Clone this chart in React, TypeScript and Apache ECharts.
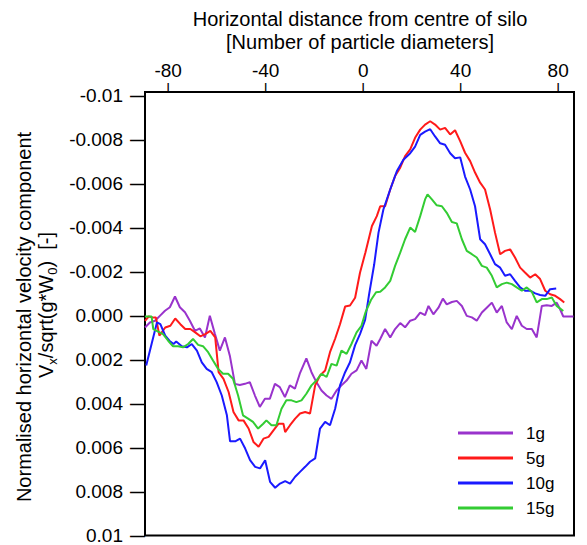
import React, { useEffect, useRef } from 'react';
import * as echarts from 'echarts';

const FONT = '"Liberation Sans", Arial, Helvetica, sans-serif';

const xMin = -89.5;
const xMax = 86.5;
const yMin = -0.01015;
const yMax = 0.01;
const xTicks = [-80, -40, 0, 40, 80];
const yTicks = [-0.01, -0.008, -0.006, -0.004, -0.002, 0, 0.002, 0.004, 0.006, 0.008, 0.01];
const yTickLabels = ['-0.01', '-0.008', '-0.006', '-0.004', '-0.002', '0.000', '0.002', '0.004', '0.006', '0.008', '0.01'];

const seriesNames = ['1g', '5g', '10g', '15g'];
const seriesColors = ['#9933cc', '#ff1a1a', '#1a1aff', '#33cc33'];

const data1g: [number, number][] = [
  [-89.5, 0.00055], [-87.5, 0.00032], [-85.4, 0.00024], [-83.4, 0.00002], [-81.3, -0.00021],
  [-79.3, -0.00037], [-77.2, -0.00086], [-75.2, -0.00037], [-73.1, -0.00014], [-71.1, 0.00024],
  [-69.0, 0.0007], [-67.0, 0.00059], [-64.9, 0.001], [-62.9, 0.00002], [-60.8, 0.00085],
  [-58.8, 0.0016], [-56.7, 0.001], [-54.7, 0.00183], [-52.6, 0.00311], [-50.6, 0.00316],
  [-48.5, 0.00311], [-46.5, 0.00303], [-44.4, 0.00364], [-42.4, 0.00416], [-40.3, 0.00379],
  [-38.3, 0.00379], [-36.2, 0.00311], [-34.2, 0.00326], [-32.1, 0.00371], [-30.1, 0.00318],
  [-28.0, 0.00333], [-26.0, 0.00265], [-23.3, 0.00195], [-21.2, 0.00258], [-19.2, 0.00303],
  [-17.1, 0.00341], [-15.0, 0.00364], [-13.0, 0.00379], [-10.9, 0.00341], [-8.9, 0.00318],
  [-6.8, 0.00296], [-4.8, 0.00265], [-2.7, 0.0025], [-0.7, 0.00205], [1.3, 0.00243],
  [3.4, 0.00115], [5.5, 0.00138], [7.0, 0.00107], [9.0, 0.00062], [11.1, 0.001],
  [13.1, 0.00062], [15.2, 0.00035], [17.2, 0.00054], [19.3, 0.00024], [21.3, 0.00017],
  [23.4, -0.00013], [25.4, -0.00001], [26.8, -0.00043], [28.8, -0.00005], [30.9, -0.00035],
  [32.7, -0.00076], [34.3, -0.0005], [36.4, -0.00061], [38.4, -0.00066], [40.5, -0.00043],
  [42.5, 0.00002], [44.6, 0.00009], [46.6, 0.00024], [48.7, -0.00013], [50.7, -0.00035],
  [52.8, -0.00058], [54.8, -0.00013], [56.9, -0.00043], [58.9, 0.00032], [61.0, 0.00062],
  [63.0, 0.00002], [65.1, 0.00047], [67.1, 0.00062], [69.2, 0.00062], [71.2, 0.001],
  [73.3, -0.00043], [75.3, -0.00046], [77.4, -0.00043], [79.4, -0.00058], [80.8, -0.00028],
  [82.1, 0.00005], [84.2, 0.00005], [86.3, 0.00005],
];

const data5g: [number, number][] = [
  [-89.5, 0.00025], [-88.0, 0.00005], [-86.0, 0.0001], [-85.0, 0.0001], [-83.6, 0.00092],
  [-81.2, 0.00055], [-79.1, 0.00047], [-77.1, 0.00014], [-75.0, 0.0004], [-73.0, 0.00062],
  [-70.9, 0.00062], [-68.9, 0.00077], [-66.8, 0.00095], [-64.8, 0.00085], [-62.7, 0.0007],
  [-60.7, 0.001], [-59.3, 0.00258], [-57.3, 0.00288], [-55.2, 0.00348], [-53.2, 0.00439],
  [-51.1, 0.00477], [-49.1, 0.00477], [-47.0, 0.00514], [-45.0, 0.00575], [-42.9, 0.00597],
  [-40.9, 0.0056], [-38.8, 0.00552], [-36.8, 0.00522], [-34.7, 0.00492], [-32.7, 0.00492],
  [-32.0, 0.0053], [-30.0, 0.00499], [-27.9, 0.00469], [-25.9, 0.00446], [-23.8, 0.00439],
  [-21.8, 0.00446], [-19.7, 0.00318], [-17.7, 0.00273], [-15.6, 0.0025], [-13.6, 0.00167],
  [-11.5, 0.00106], [-9.5, 0.0004], [-7.4, -0.0004], [-5.4, -0.00045], [-3.3, -0.0008],
  [-1.3, -0.00194], [0.9, -0.00285], [3.6, -0.00406], [5.6, -0.00451], [7.0, -0.00496],
  [9.0, -0.00496], [11.1, -0.00572], [13.1, -0.00633], [15.2, -0.00671], [17.2, -0.00724],
  [19.3, -0.00754], [21.3, -0.00807], [23.4, -0.00844], [25.4, -0.00867], [27.5, -0.00882],
  [29.5, -0.00867], [31.6, -0.00844], [33.6, -0.00852], [35.7, -0.00822], [37.7, -0.00841],
  [39.8, -0.00792], [41.8, -0.00739], [43.9, -0.00701], [45.9, -0.00649], [48.0, -0.00603],
  [50.0, -0.00572], [52.1, -0.00481], [54.1, -0.00376], [56.2, -0.00278], [58.2, -0.00293],
  [60.3, -0.003], [62.3, -0.00263], [64.4, -0.00217], [66.4, -0.00195], [68.5, -0.00172],
  [70.6, -0.00187], [72.6, -0.00165], [74.7, -0.00112], [76.7, -0.00096], [78.8, -0.00089],
  [80.8, -0.00074], [82.5, -0.00059],
];

const data10g: [number, number][] = [
  [-89.0, 0.00228], [-84.6, 0.00032], [-83.2, 0.0004], [-81.2, 0.00092], [-79.5, 0.00115],
  [-77.8, 0.0013], [-76.7, 0.00119], [-74.4, 0.0014], [-72.3, 0.00145], [-70.3, 0.0013],
  [-68.2, 0.0016], [-66.2, 0.00213], [-64.2, 0.00243], [-62.1, 0.00258], [-60.1, 0.00303],
  [-58.0, 0.00364], [-55.9, 0.00454], [-54.6, 0.00572], [-52.5, 0.00572], [-50.5, 0.0056],
  [-48.4, 0.00605], [-46.4, 0.00658], [-44.3, 0.00688], [-42.3, 0.00695], [-40.2, 0.00658],
  [-38.2, 0.00756], [-36.1, 0.00783], [-34.1, 0.00764], [-32.0, 0.00753], [-30.0, 0.00764],
  [-27.9, 0.00733], [-25.9, 0.00711], [-23.8, 0.00688], [-21.8, 0.00665], [-19.7, 0.0065],
  [-17.7, 0.00514], [-15.6, 0.00484], [-13.6, 0.00499], [-11.5, 0.00424], [-9.5, 0.00318],
  [-7.4, 0.00258], [-5.4, 0.00213], [-3.3, 0.00135], [-1.3, 0.00085], [0.8, 0.0002],
  [2.5, -0.001], [4.5, -0.0023], [6.3, -0.00376], [8.3, -0.00481], [11.1, -0.00572],
  [13.8, -0.00655], [16.5, -0.00707], [19.3, -0.00737], [21.3, -0.00767], [23.4, -0.0082],
  [25.4, -0.00835], [27.5, -0.00846], [29.5, -0.00813], [31.6, -0.00782], [33.6, -0.00775],
  [35.7, -0.00737], [37.7, -0.00714], [39.8, -0.00718], [41.8, -0.00631], [43.9, -0.00572],
  [45.9, -0.00496], [48.0, -0.00346], [50.0, -0.00323], [52.1, -0.00278], [54.1, -0.00233],
  [56.2, -0.00217], [58.2, -0.0018], [60.3, -0.00187], [62.3, -0.00157], [64.4, -0.00127],
  [66.4, -0.00112], [68.5, -0.00112], [70.6, -0.001], [72.6, -0.00093], [74.7, -0.00089],
  [76.7, -0.00119], [79.2, -0.00122],
];

const data15g: [number, number][] = [
  [-89.5, 0.00005], [-86.8, 0.00005], [-86.1, 0.00062], [-84.1, 0.00074], [-82.1, 0.00085],
  [-80.0, 0.00115], [-78.0, 0.0014], [-75.9, 0.0014], [-73.9, 0.00145], [-71.8, 0.0013],
  [-69.8, 0.00107], [-67.7, 0.00134], [-65.7, 0.0014], [-63.6, 0.00167], [-61.6, 0.00205],
  [-59.5, 0.00243], [-57.5, 0.00265], [-55.4, 0.00265], [-53.4, 0.00288], [-51.3, 0.00364],
  [-49.3, 0.00454], [-47.2, 0.00469], [-45.2, 0.00484], [-43.1, 0.00514], [-41.0, 0.00492],
  [-39.7, 0.00477], [-37.6, 0.00499], [-35.6, 0.00499], [-33.5, 0.00424], [-31.5, 0.00386],
  [-29.4, 0.00386], [-27.4, 0.00394], [-25.3, 0.00386], [-23.3, 0.00356], [-21.2, 0.00318],
  [-19.2, 0.00296], [-17.1, 0.00265], [-15.0, 0.0028], [-13.0, 0.0022], [-10.9, 0.00228],
  [-8.9, 0.0016], [-6.8, 0.00175], [-4.8, 0.0013], [-2.7, 0.00077], [-0.7, 0.00047],
  [1.0, -0.00015], [3.2, -0.0007], [5.3, -0.00105], [7.0, -0.00107], [9.0, -0.00127],
  [11.1, -0.00157], [13.1, -0.00225], [15.2, -0.00285], [17.2, -0.00346], [19.3, -0.00399],
  [21.3, -0.00379], [23.4, -0.00451], [25.4, -0.00527], [26.4, -0.0055], [28.2, -0.00527],
  [30.2, -0.005], [32.3, -0.00496], [34.3, -0.00466], [36.4, -0.00424], [38.4, -0.00418],
  [40.5, -0.00346], [42.5, -0.00293], [44.6, -0.00278], [46.6, -0.00263], [48.7, -0.00225],
  [50.7, -0.00217], [52.8, -0.0018], [54.8, -0.00127], [56.9, -0.00142], [58.9, -0.00149],
  [61.0, -0.00142], [63.0, -0.00127], [65.1, -0.00112], [67.1, -0.00127], [69.2, -0.00107],
  [71.2, -0.00059], [73.3, -0.00074], [75.3, -0.00074], [77.4, -0.00081], [79.4, -0.00043],
  [81.5, -0.00025], [82.1, -0.0002],
];

const seriesData = [data1g, data5g, data10g, data15g];

const xTitleLines = ['Horizontal distance from centre of silo', '[Number of particle diameters]'];
const yTitleLine1 = 'Normalised horizontal velocity component';
const yTitleLine2Rich = '{n|V}{s|x}{n|/sqrt(g*W}{s|0}{n|)  [-]}';

export default function App() {
  const ref = useRef<HTMLDivElement>(null);
  useEffect(() => {
    if (!ref.current) return;
    const chart = echarts.init(ref.current, null, { renderer: 'svg' });
    const labelFor = (v: number) => {
      let best = 0;
      let bd = Infinity;
      yTicks.forEach((t, i) => {
        const d = Math.abs(t - v);
        if (d < bd) {
          bd = d;
          best = i;
        }
      });
      return yTickLabels[best];
    };
    const hidden = {
      axisLine: { show: false, onZero: false },
      splitLine: { show: false },
      axisTick: { show: false },
    };
    chart.setOption({
      animation: false,
      grid: {
        left: 145,
        top: 92,
        width: 429,
        height: 445,
        show: true,
        borderColor: '#000',
        borderWidth: 2,
        containLabel: false,
      },
      xAxis: [
        {
          type: 'value',
          position: 'top',
          min: xMin,
          max: xMax,
          ...hidden,
          axisLabel: {
            customValues: xTicks,
            margin: 12,
            fontSize: 19,
            fontFamily: FONT,
            color: '#000',
          },
        },
        {
          // tick marks of the top axis
          type: 'value',
          position: 'top',
          min: xMin,
          max: xMax,
          ...hidden,
          axisLabel: {
            customValues: xTicks,
            margin: 0,
            fontSize: 10,
            fontWeight: 'bold',
            fontFamily: FONT,
            color: '#000',
            formatter: () => '|',
          },
        },
      ],
      yAxis: [
        {
          type: 'value',
          position: 'left',
          inverse: true,
          min: yMin,
          max: yMax,
          ...hidden,
          axisLabel: {
            customValues: yTicks,
            margin: 22,
            fontSize: 19,
            fontFamily: FONT,
            color: '#000',
            formatter: (v: number) => labelFor(v),
          },
        },
        {
          // tick marks of the left axis
          type: 'value',
          position: 'left',
          inverse: true,
          min: yMin,
          max: yMax,
          ...hidden,
          axisLabel: {
            customValues: yTicks,
            margin: 0,
            fontSize: 15,
            fontWeight: 'bold',
            fontFamily: FONT,
            color: '#000',
            formatter: () => '\u2014',
          },
        },
      ],
      legend: {
        data: seriesNames,
        orient: 'vertical',
        left: 458,
        top: 423,
        icon: 'rect',
        itemWidth: 55,
        itemHeight: 3,
        itemGap: 5,
        padding: 0,
        textStyle: {
          fontSize: 17,
          lineHeight: 20,
          fontFamily: FONT,
          color: '#000',
          padding: [0, 0, 0, 8],
        },
      },
      series: seriesNames.map((name, i) => ({
        name,
        type: 'line',
        xAxisIndex: 0,
        yAxisIndex: 0,
        data: seriesData[i],
        showSymbol: false,
        symbol: 'none',
        color: seriesColors[i],
        lineStyle: { color: seriesColors[i], width: 2 },
        emphasis: { disabled: true },
      })),
      graphic: [
        {
          type: 'text',
          x: 360,
          y: 19,
          style: {
            text: xTitleLines[0],
            fontSize: 20,
            fontFamily: FONT,
            fill: '#000',
            align: 'center',
            verticalAlign: 'middle',
          },
        },
        {
          type: 'text',
          x: 360,
          y: 42,
          style: {
            text: xTitleLines[1],
            fontSize: 20,
            fontFamily: FONT,
            fill: '#000',
            align: 'center',
            verticalAlign: 'middle',
          },
        },
        {
          type: 'text',
          x: 24,
          y: 317,
          rotation: Math.PI / 2,
          style: {
            text: yTitleLine1,
            fontSize: 20,
            fontFamily: FONT,
            fill: '#000',
            align: 'center',
            verticalAlign: 'middle',
          },
        },
        {
          type: 'text',
          x: 46,
          y: 305,
          rotation: Math.PI / 2,
          style: {
            text: yTitleLine2Rich,
            fill: '#000',
            align: 'center',
            verticalAlign: 'middle',
            rich: {
              n: { fontSize: 20, lineHeight: 26, verticalAlign: 'middle', fontFamily: FONT, fill: '#000' },
              s: { fontSize: 13, lineHeight: 13, verticalAlign: 'bottom', fontFamily: FONT, fill: '#000' },
            },
          },
        },
      ],
    });
    return () => chart.dispose();
  }, []);
  return <div ref={ref} style={{ width: 587, height: 545, position: 'absolute', left: 0, top: 0 }} />;
}
